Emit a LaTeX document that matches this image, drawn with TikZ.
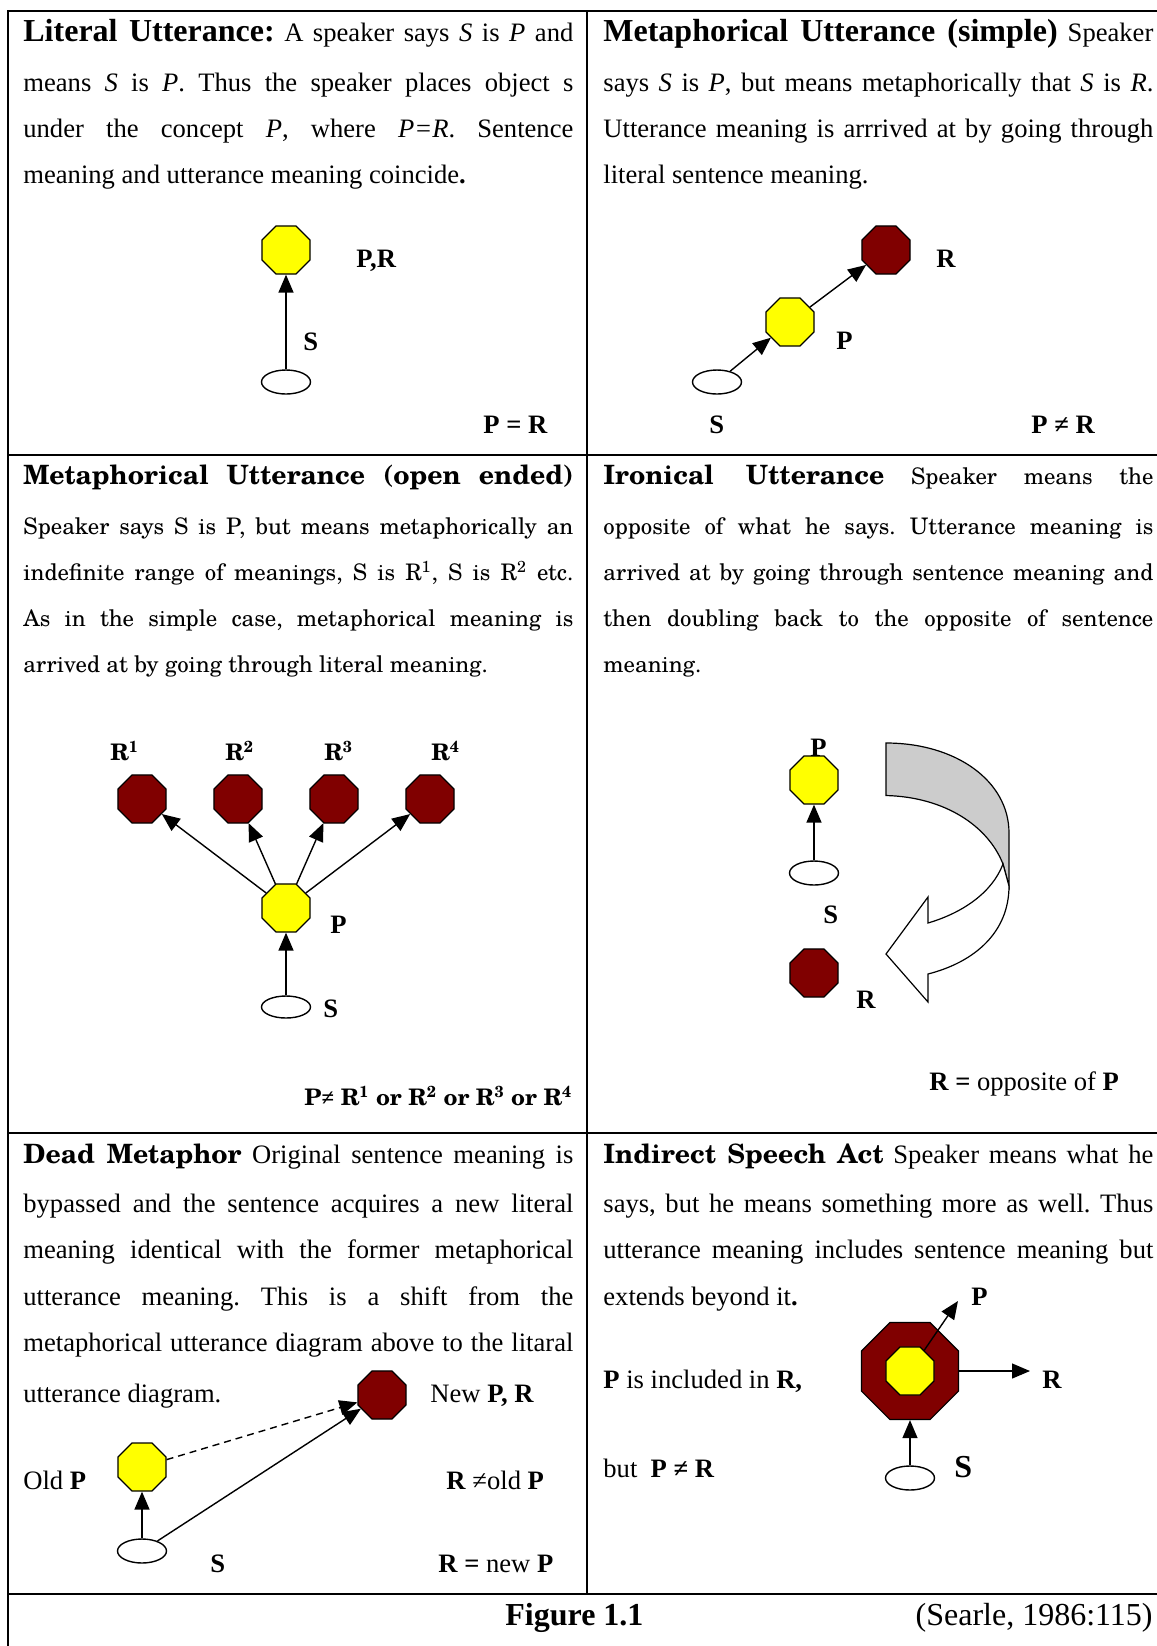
\documentclass[tikz,border=0pt]{standalone}
\usepackage{fontspec}
\setmainfont{Liberation Serif}
\newfontfamily\schola{texgyreschola}[Extension=.otf, UprightFont=*-regular, BoldFont=*-bold, ItalicFont=*-italic, BoldItalicFont=*-bolditalic]
\usetikzlibrary{shapes.geometric,arrows.meta}
\definecolor{oyellow}{RGB}{255,255,0}
\definecolor{ored}{RGB}{128,0,0}
\definecolor{ogray}{RGB}{204,204,204}
\frenchspacing
\newcommand\bodyf{\fontsize{13.3pt}{16pt}\selectfont\frenchspacing}
\newcommand\headf{\fontsize{16pt}{19pt}\selectfont\bfseries}
\newcommand\sbody{\schola\fontsize{11.4pt}{14pt}\selectfont\frenchspacing}
\newcommand\shead{\schola\fontsize{13.3pt}{16pt}\selectfont\bfseries}
\newcommand\jl[1]{\makebox[275pt][s]{#1}}
\tikzset{
  txt/.style={inner sep=0pt, anchor=base west, font=\bodyf},
  stxt/.style={inner sep=0pt, anchor=base west, font=\sbody},
  lbl/.style={inner sep=0pt, anchor=base west, font=\bodyf\bfseries},
  slbl/.style={inner sep=0pt, anchor=base west, font=\schola\fontsize{11.4pt}{14pt}\selectfont\bfseries},
  oct/.style={regular polygon, regular polygon sides=8, minimum size=26pt, inner sep=0pt, draw, line width=0.6pt},
  yoct/.style={oct, fill=oyellow},
  roct/.style={oct, fill=ored},
  bigoct/.style={oct, fill=ored, minimum size=52.5pt},
  sell/.style={ellipse, draw, line width=0.7pt, minimum width=24.5pt, minimum height=12pt, inner sep=0pt, fill=white},
  arr/.style={-{Triangle[length=9pt,width=7.5pt]}, line width=0.7pt},
  gridline/.style={line width=1.3pt, line cap=rect},
  shapeline/.style={line width=0.6pt, line join=miter}
}
\begin{document}
\begin{tikzpicture}[x=0.5pt,y=-0.5pt]
\useasboundingbox (0,0) rectangle (1157,1646);
\fill[white] (0,0) rectangle (1157,1646);
% grid
\draw[gridline] (8,11) -- (1157,11);
\draw[gridline] (8,11) -- (8,1646);
\draw[gridline] (587,11) -- (587,1594);
\draw[gridline] (8,455) -- (1157,455);
\draw[gridline] (8,1133) -- (1157,1133);
\draw[gridline] (8,1594) -- (1157,1594);

% ---------- Panel 1 ----------
\node[txt] (t11) at (23,41) {\jl{{\headf Literal Utterance:} A speaker says \textit{S} is \textit{P} and}};
\node[txt] (t12) at (23,91) {\jl{means \textit{S} is \textit{P}. Thus the speaker places object s}};
\node[txt] (t13) at (23,137) {\jl{under the concept \textit{P}, where \textit{P=R}. Sentence}};
\node[txt] (t14) at (23,183) {meaning and utterance meaning coincide\textbf{.}};
\node[yoct] (p1y) at (286,250) {};
\node[sell] (p1e) at (286,382) {};
\draw[arr] (p1e) -- (p1y);
\node[lbl] (p1lpr) at (356,267) {P,R};
\node[lbl] (p1ls) at (303,350) {S};
\node[lbl] (p1leq) at (483,433) {P = R};

% ---------- Panel 2 ----------
\node[txt] (t21) at (603,41) {\jl{{\headf Metaphorical Utterance (simple)} Speaker}};
\node[txt] (t22) at (603,91) {\jl{says \textit{S} is \textit{P}, but means metaphorically that \textit{S} is \textit{R}.}};
\node[txt] (t23) at (603,137) {\jl{Utterance meaning is arrrived at by going through}};
\node[txt] (t24) at (603,183) {literal sentence meaning.};
\node[roct] (p2r) at (886,250) {};
\node[yoct] (p2y) at (790,322) {};
\node[sell] (p2e) at (717,382) {};
\draw[arr] (p2e) -- (p2y);
\draw[arr] (p2y) -- (p2r);
\node[lbl] (p2lr) at (936,267) {R};
\node[lbl] (p2lp) at (836,349) {P};
\node[lbl] (p2ls) at (709,433) {S};
\node[lbl] (p2lne) at (1031,433) {P ≠ R};

% ---------- Panel 3 ----------
\node[txt] (t31) at (23,484) {\jl{\shead Metaphorical Utterance (open ended)}};
\node[stxt] (t32) at (23,534) {\jl{Speaker says S is P, but means metaphorically an}};
\node[stxt] (t33) at (23,580) {\jl{indefinite range of meanings, S is R\textsuperscript{1}, S is R\textsuperscript{2} etc.}};
\node[stxt] (t34) at (23,626) {\jl{As in the simple case, metaphorical meaning is}};
\node[stxt] (t35) at (23,672) {arrived at by going through literal meaning.};
\node[roct] (p3r1) at (142,799) {};
\node[roct] (p3r2) at (238,799) {};
\node[roct] (p3r3) at (334,799) {};
\node[roct] (p3r4) at (430,799) {};
\node[yoct] (p3y) at (286,908) {};
\node[sell, minimum height=11pt] (p3e) at (286,1007) {};
\draw[arr] (p3e) -- (p3y);
\draw[arr] (p3y) -- (p3r1);
\draw[arr] (p3y) -- (p3r2);
\draw[arr] (p3y) -- (p3r3);
\draw[arr] (p3y) -- (p3r4);
\node[slbl] (p3l1) at (110,760) {R\textsuperscript{1}};
\node[slbl] (p3l2) at (225,760) {R\textsuperscript{2}};
\node[slbl] (p3l3) at (324,760) {R\textsuperscript{3}};
\node[slbl] (p3l4) at (431,760) {R\textsuperscript{4}};
\node[lbl] (p3lp) at (330,933) {P};
\node[lbl] (p3ls) at (323,1017) {S};
\node[slbl] (p3lne) at (304,1105) {P{\rmfamily ≠} R\textsuperscript{1} or R\textsuperscript{2} or R\textsuperscript{3} or R\textsuperscript{4}};

% ---------- Panel 4 ----------
\node[stxt] (t41) at (603,484) {\jl{{\shead Ironical Utterance} Speaker means the}};
\node[stxt] (t42) at (603,534) {\jl{opposite of what he says. Utterance meaning is}};
\node[stxt] (t43) at (603,580) {\jl{arrived at by going through sentence meaning and}};
\node[stxt] (t44) at (603,626) {\jl{then doubling back to the opposite of sentence}};
\node[stxt] (t45) at (603,672) {meaning.};
\node[yoct] (p4y) at (814,780) {};
\node[sell] (p4e) at (814,873) {};
\node[roct] (p4r) at (814,973) {};
\draw[arr] (p4e) -- (p4y);
\node[lbl] (p4lp) at (810,756) {P};
\node[lbl] (p4ls) at (823,923) {S};
\node[lbl] (p4lr) at (856,1008) {R};
\node[txt] (p4leq) at (929,1090) {\textbf{R =} opposite of \textbf{P}};
% curved block arrow
\filldraw[fill=ogray, shapeline] (886,743) .. controls (956,743) and (1009,781) .. (1009,833) -- (1009,886) -- (1003,864) .. controls (988,826) and (945,797) .. (886,795.5) -- cycle;
\filldraw[fill=white, shapeline] (1009,886) .. controls (1009,932) and (975,962) .. (928,974) -- (928,1002) -- (886,954) -- (928,897) -- (928,923) .. controls (962,913) and (992,893) .. (1003,864) -- cycle;

% ---------- Panel 5 ----------
\node[txt] (t51) at (23,1163) {\jl{{\shead Dead Metaphor} Original sentence meaning is}};
\node[txt] (t52) at (23,1212) {\jl{bypassed and the sentence acquires a new literal}};
\node[txt] (t53) at (23,1258) {\jl{meaning identical with the former metaphorical}};
\node[txt] (t54) at (23,1305) {\jl{utterance meaning. This is a shift from the}};
\node[txt] (t55) at (23,1351) {\jl{metaphorical utterance diagram above to the litaral}};
\node[txt] (t56) at (23,1402) {utterance diagram.};
\node[roct] (p5r) at (382,1395) {};
\node[yoct] (p5y) at (142,1467) {};
\node[sell] (p5e) at (142,1551) {};
\draw[arr] (p5e) -- (p5y);
\draw[arr, dash pattern=on 3.5pt off 2.5pt] (p5y) -- (p5r);
\draw[arr] (p5e) -- (p5r);
\node[txt] (p5lnew) at (430,1402) {New \textbf{P, R}};
\node[txt] (p5lold) at (23,1489) {Old \textbf{P}};
\node[lbl] (p5ls) at (210,1572) {S};
\node[txt] (p5lne) at (446,1489) {\textbf{R} ≠old \textbf{P}};
\node[txt] (p5leq) at (438,1572) {\textbf{R =} new \textbf{P}};

% ---------- Panel 6 ----------
\node[txt] (t61) at (603,1163) {\jl{{\shead Indirect Speech Act} Speaker means what he}};
\node[txt] (t62) at (603,1212) {\jl{says, but he means something more as well. Thus}};
\node[txt] (t63) at (603,1258) {\jl{utterance meaning includes sentence meaning but}};
\node[txt] (t64) at (603,1305) {extends beyond it\textbf{.}};
\node[bigoct] (p6big) at (910,1371) {};
\node[yoct] (p6y) at (910,1371) {};
\node[sell] (p6e) at (910,1478) {};
\coordinate (p6ptip) at (958,1301);
\coordinate (p6rtip) at (1030,1371);
\draw[arr] (p6e) -- (p6big);
\draw[arr] (p6y) -- (p6ptip);
\draw[arr] (p6big) -- (p6rtip);
\node[lbl] (p6lp) at (971,1305) {P};
\node[lbl] (p6lr) at (1042,1388) {R};
\node[inner sep=0pt, anchor=base west, font=\headf] (p6ls) at (954,1477) {S};
\node[txt] (p6lin) at (603,1388) {\textbf{P} is included in \textbf{R,}};
\node[txt] (p6lbut) at (603,1477) {but\ \ \textbf{P ≠ R}};

% ---------- Caption ----------
\node[inner sep=0pt, anchor=base west, font=\headf] (cap) at (505,1625) {Figure 1.1};
\node[inner sep=0pt, anchor=base east, font=\fontsize{16pt}{19pt}\selectfont] (src) at (1153,1625) {(Searle, 1986:115)};
\end{tikzpicture}
\end{document}
